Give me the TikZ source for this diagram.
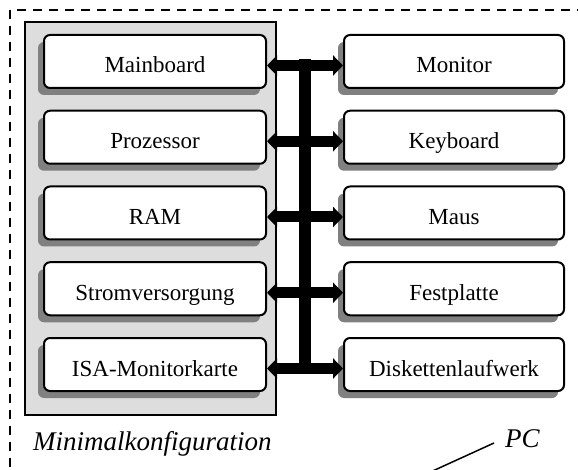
\documentclass[tikz,border=0pt]{standalone}
\usepackage{fontspec}
\setmainfont{Liberation Serif}
\usetikzlibrary{arrows.meta,shadows}
\definecolor{panelgray}{RGB}{221,221,221}
\definecolor{shadowgray}{RGB}{128,128,128}
\begin{document}
\begin{tikzpicture}[x=1pt,y=-1pt,
  comp/.style={draw=black, line width=2pt, fill=white, rounded corners=6pt,
    minimum height=53pt, inner sep=0pt, text height=23pt, text depth=0pt,
    font=\fontsize{23}{27}\selectfont,
    drop shadow={shadow xshift=-6pt, shadow yshift=-7pt, fill=shadowgray, opacity=1}},
  leftcomp/.style={comp, minimum width=222pt},
  rightcomp/.style={comp, minimum width=220pt},
  busarrow/.style={line width=11pt, {Triangle[length=10pt,width=20pt]}-{Triangle[length=10pt,width=20pt]}},
  bus/.style={line width=12pt},
  caption/.style={font=\fontsize{27}{31}\selectfont\itshape, inner sep=0pt, anchor=base west}]
\clip (0,0) rectangle (578,470);
% PC frame
\draw[line width=2.2pt, dash pattern=on 9pt off 7pt] (10,10) rectangle (600,500);
% Minimal configuration panel
\draw[line width=1.5pt, fill=panelgray] (25,22) rectangle (276,415);
% components
\foreach \i/\ltxt/\rtxt in {1/Mainboard/Monitor, 2/Prozessor/Keyboard, 3/RAM/Maus, 4/Stromversorgung/Festplatte, 5/ISA-Monitorkarte/Diskettenlaufwerk}{
  \node[leftcomp] (L\i) at (155, {61.5+75.75*(\i-1)}) {\ltxt};
  \node[rightcomp] (R\i) at (454, {61.5+75.75*(\i-1)}) {\rtxt};
}
% bus
\coordinate (bt) at (305, 59.5);
\coordinate (bb) at (305, 373);
\draw[bus] (bt) -- (bb);
\foreach \i in {1,...,5}{
  \draw[busarrow] ([yshift=-4pt]L\i.east) -- ([yshift=-4pt]R\i.west);
}
% captions
\node[caption] (mk) at (33,450) {Minimalkonfiguration};
\node[caption] (pc) at (505,447) {PC};
\coordinate (pcend) at (391,490);
\draw[line width=1.5pt] ([xshift=-11pt,yshift=4pt]pc.base west) -- (pcend);
\end{tikzpicture}
\end{document}
